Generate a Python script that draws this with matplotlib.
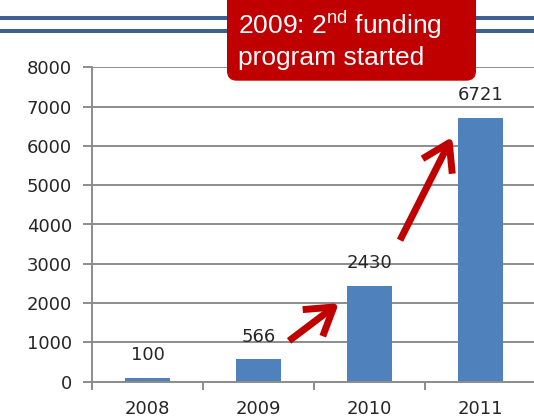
import matplotlib
matplotlib.use("Agg")
import matplotlib.pyplot as plt
from matplotlib.patches import FancyBboxPatch
from matplotlib.lines import Line2D

years = ["2008", "2009", "2010", "2011"]
values = [100, 566, 2430, 6721]
y_ticks = [0, 1000, 2000, 3000, 4000, 5000, 6000, 7000, 8000]
callout_line1 = r"2009: 2$^{\mathrm{nd}}$ funding"
callout_line2 = "program started"
# arrows: (tail_x, tail_y) -> (head_x, head_y) in data units
arrows = [((1.275, 1040), (1.725, 2000)),
          ((2.275, 3600), (2.745, 6230))]

plt.rcParams["mathtext.fontset"] = "custom"
plt.rcParams["mathtext.rm"] = "Liberation Sans"

W, H = 534, 419
fig = plt.figure(figsize=(W / 100, H / 100), dpi=100)
fig.patch.set_facecolor("white")

def fx(px):
    return px / W

def fy(py):
    return 1 - py / H

ax_left, ax_right = 92, 536
ax_top, ax_bottom = 67.3, 381.7
ax = fig.add_axes([fx(ax_left), fy(ax_bottom), (ax_right - ax_left) / W, (ax_bottom - ax_top) / H])
ax.set_facecolor("none")

grid_c = "#8c8c8c"
bar_c = "#4F81BD"
red = "#C00000"
lab_c = "#262626"
lab_font = "DejaVu Sans"
fs = 13

x = list(range(len(years)))
ax.bar(x, values, width=0.4, color=bar_c, zorder=2)
ax.set_xlim(-0.5, len(years) - 0.5)
ax.set_ylim(0, 8000)

ax.set_yticks(y_ticks)
ax.set_yticklabels([str(v) for v in y_ticks], fontsize=fs, color=lab_c, family=lab_font)
ax.yaxis.grid(True, color=grid_c, lw=1.4, zorder=0)
ax.set_axisbelow(True)

ax.set_xticks([i - 0.5 for i in range(len(years) + 1)])
ax.set_xticklabels([])
ax.set_xticks(x, minor=True)
ax.set_xticklabels(years, minor=True, fontsize=fs, color=lab_c, family=lab_font)
ax.tick_params(axis="x", which="minor", length=0, pad=13.5)
ax.tick_params(axis="x", which="major", length=6, width=1.4, color=grid_c, direction="out")
ax.tick_params(axis="y", length=6.5, width=1.4, color=grid_c, pad=8)

for s in ["top", "right"]:
    ax.spines[s].set_visible(False)
for s in ["left", "bottom"]:
    ax.spines[s].set_color(grid_c)
    ax.spines[s].set_linewidth(1.4)

for xi, v in zip(x, values):
    ax.annotate(str(v), (xi, v), xytext=(0, 10), textcoords="offset points",
                ha="center", va="bottom", fontsize=fs, color=lab_c, family=lab_font)

for (t, h) in arrows:
    ax.annotate("", xy=h, xytext=t,
                arrowprops=dict(arrowstyle="->,head_length=0.95,head_width=0.6",
                                color=red, lw=5, mutation_scale=20,
                                shrinkA=0, shrinkB=0, capstyle="butt"),
                zorder=5)

# top double rule
for py in (18, 31.3):
    fig.add_artist(Line2D([0, 1], [fy(py), fy(py)], transform=fig.transFigure,
                          color="#3E6090", lw=2.9, zorder=1))

# callout box
bx0, bx1, by0, by1 = 227, 476, -15, 80.7
box = FancyBboxPatch((fx(bx0), fy(by1)), fx(bx1) - fx(bx0), fy(by0) - fy(by1),
                     boxstyle="round,pad=0,rounding_size=0.018",
                     transform=fig.transFigure, facecolor=red, edgecolor="none",
                     zorder=10, mutation_aspect=W / H)
fig.add_artist(box)
fig.text(fx(238), fy(34), callout_line1, fontsize=19, color="white",
         family="Liberation Sans", ha="left", va="baseline", zorder=11)
fig.text(fx(238), fy(65), callout_line2, fontsize=19, color="white",
         family="Liberation Sans", ha="left", va="baseline", zorder=11)

fig.savefig("out.png", dpi=100, facecolor="white")
